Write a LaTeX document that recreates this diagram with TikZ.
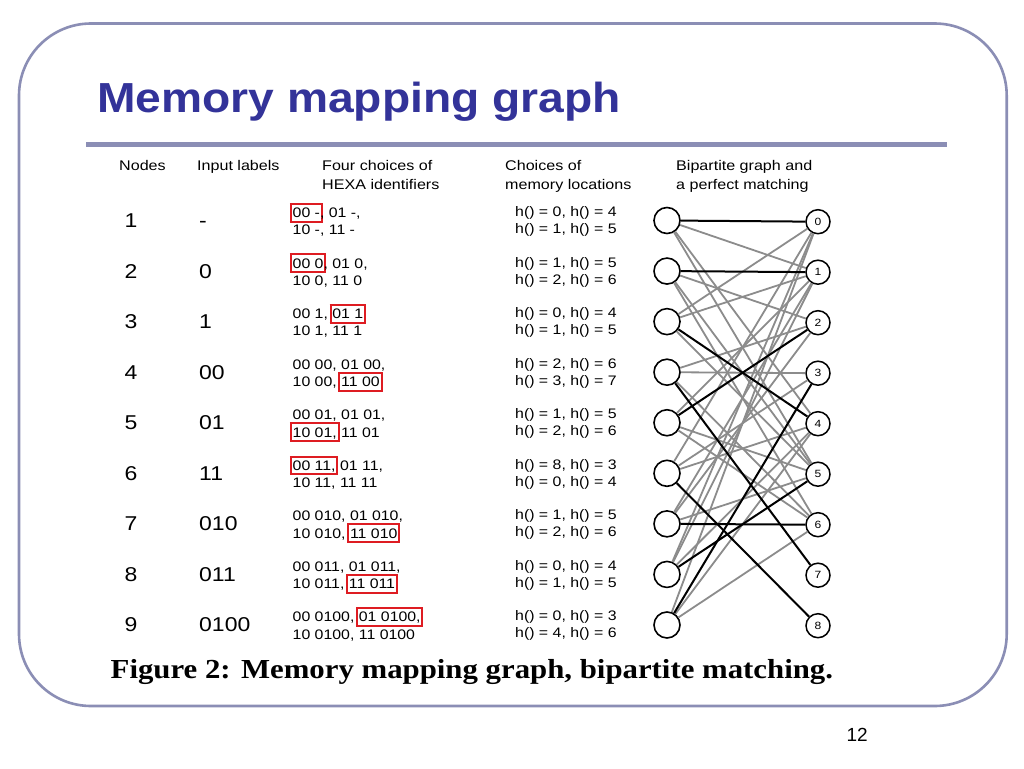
\documentclass[tikz,border=0pt]{standalone}
\usepackage{fontspec}
\setmainfont{Liberation Sans}
\newfontfamily\figsans[FakeStretch=1.15]{Liberation Sans}
\newfontfamily\figserif[FakeStretch=1.12]{Liberation Serif}
\newfontfamily\titlesans[FakeStretch=1.1]{Liberation Sans}
\definecolor{framecol}{RGB}{139,142,181}
\definecolor{titleblue}{RGB}{51,51,153}
\definecolor{boxred}{RGB}{222,28,34}
\definecolor{edgegray}{RGB}{140,140,140}
\newcommand\redbox[1]{\leavevmode\rlap{\hspace{-2.8pt}\textcolor{boxred}{\setlength\fboxsep{0.8pt}\setlength\fboxrule{2pt}\fbox{\phantom{#1}\rule[-2.3pt]{0pt}{14.3pt}}}}#1}
\tikzset{
  headtxt/.style={anchor=base west, inner sep=0pt, font=\figsans\fontsize{14}{17}\selectfont},
  numtxt/.style={inner sep=0pt, font=\figsans\fontsize{20}{24}\selectfont},
  hextxt/.style={anchor=base west, inner sep=0pt, font=\figsans\fontsize{13.8}{16}\selectfont},
  lnode/.style={circle, draw=black, line width=1.6pt, fill=white, minimum size=26pt, inner sep=0pt},
  rnode/.style={circle, draw=black, line width=1.5pt, fill=white, minimum size=24pt, inner sep=0pt, font=\figsans\fontsize{10.5}{12}\selectfont},
  grayedge/.style={draw=edgegray, line width=1.8pt},
  matchedge/.style={draw=black, line width=2pt},
}
\newcommand\tabrow[6]{%
  \pgfmathsetmacro\ry{220.5+(#1-1)*50.56}%
  \node[numtxt, anchor=base] (n#1) at (131,\ry+7) {#1};
  \node[numtxt, anchor=base west] (in#1) at (199,\ry+7) {#2};
  \node[hextxt] (ha#1) at (292.5,\ry-3) {#3};
  \node[hextxt] (hb#1) at (292.5,\ry+14.3) {#4};
  \node[hextxt] (hc#1) at (515,\ry-4) {#5};
  \node[hextxt] (hd#1) at (515,\ry+13) {#6};
  \node[lnode] (L#1) at (667,\ry) {};
}
\begin{document}
\begin{tikzpicture}[x=1pt,y=-1pt]
\useasboundingbox (0,0) rectangle (1024,768);
\fill[white] (0,0) rectangle (1024,768);
% slide frame
\draw[framecol, line width=2.6pt, rounded corners=72pt] (19,23.5) rectangle (1006.7,706);
\node[anchor=base west, inner sep=0pt, text=titleblue, font=\titlesans\bfseries\fontsize{42}{50}\selectfont] (title) at (97,112) {Memory mapping graph};
\draw[framecol, line width=4.5pt] (86,144.7) -- (947,144.7);
% headers
\node[headtxt] (h1) at (119,170.5) {Nodes};
\node[headtxt] (h2) at (197,170.5) {Input labels};
\node[headtxt] (h3a) at (322,170.5) {Four choices of};
\node[headtxt] (h3b) at (322,189) {HEXA identifiers};
\node[headtxt] (h4a) at (505,170.5) {Choices of};
\node[headtxt] (h4b) at (505,189) {memory locations};
\node[headtxt] (h5a) at (676,170.5) {Bipartite graph and};
\node[headtxt] (h5b) at (676,189) {a perfect matching};
% rows
\tabrow{1}{-}{\redbox{00 -}, 01 -,}{10 -, 11 -}{h() = 0, h() = 4}{h() = 1, h() = 5}
\tabrow{2}{0}{\redbox{00 0}, 01 0,}{10 0, 11 0}{h() = 1, h() = 5}{h() = 2, h() = 6}
\tabrow{3}{1}{00 1, \redbox{01 1}}{10 1, 11 1}{h() = 0, h() = 4}{h() = 1, h() = 5}
\tabrow{4}{00}{00 00, 01 00,}{10 00, \redbox{11 00}}{h() = 2, h() = 6}{h() = 3, h() = 7}
\tabrow{5}{01}{00 01, 01 01,}{\redbox{10 01,} 11 01}{h() = 1, h() = 5}{h() = 2, h() = 6}
\tabrow{6}{11}{\redbox{00 11,} 01 11,}{10 11, 11 11}{h() = 8, h() = 3}{h() = 0, h() = 4}
\tabrow{7}{010}{00 010, 01 010,}{10 010, \redbox{11 010}}{h() = 1, h() = 5}{h() = 2, h() = 6}
\tabrow{8}{011}{00 011, 01 011,}{10 011, \redbox{11 011}}{h() = 0, h() = 4}{h() = 1, h() = 5}
\tabrow{9}{0100}{00 0100, \redbox{01 0100,}}{10 0100, 11 0100}{h() = 0, h() = 3}{h() = 4, h() = 6}
% right nodes
\foreach \j in {0,...,8} {
  \node[rnode] (R\j) at (818,{221.7+\j*50.5}) {\j};
}
% gray edges
\foreach \a/\b in {1/4,1/1,1/5, 2/5,2/2,2/6, 3/0,3/1,3/5, 4/2,4/6,4/3, 5/1,5/5,5/6, 6/3,6/0,6/4, 7/1,7/5,7/2, 8/0,8/4,8/1, 9/0,9/4,9/6} {
  \draw[grayedge] (L\a) -- (R\b);
}
% perfect matching
\foreach \a/\b in {1/0,2/1,3/4,4/7,5/2,6/8,7/6,8/5,9/3} {
  \draw[matchedge] (L\a) -- (R\b);
}
% caption and page number
\node[anchor=base west, inner sep=0pt, font=\figserif\bfseries\fontsize{27.5}{32}\selectfont] (cap) at (110.5,678.5) {Figure 2: Memory mapping graph, bipartite matching.};
\node[anchor=base east, inner sep=0pt, font=\fontsize{19}{22}\selectfont] (pg) at (868,741.5) {12};
\end{tikzpicture}
\end{document}
